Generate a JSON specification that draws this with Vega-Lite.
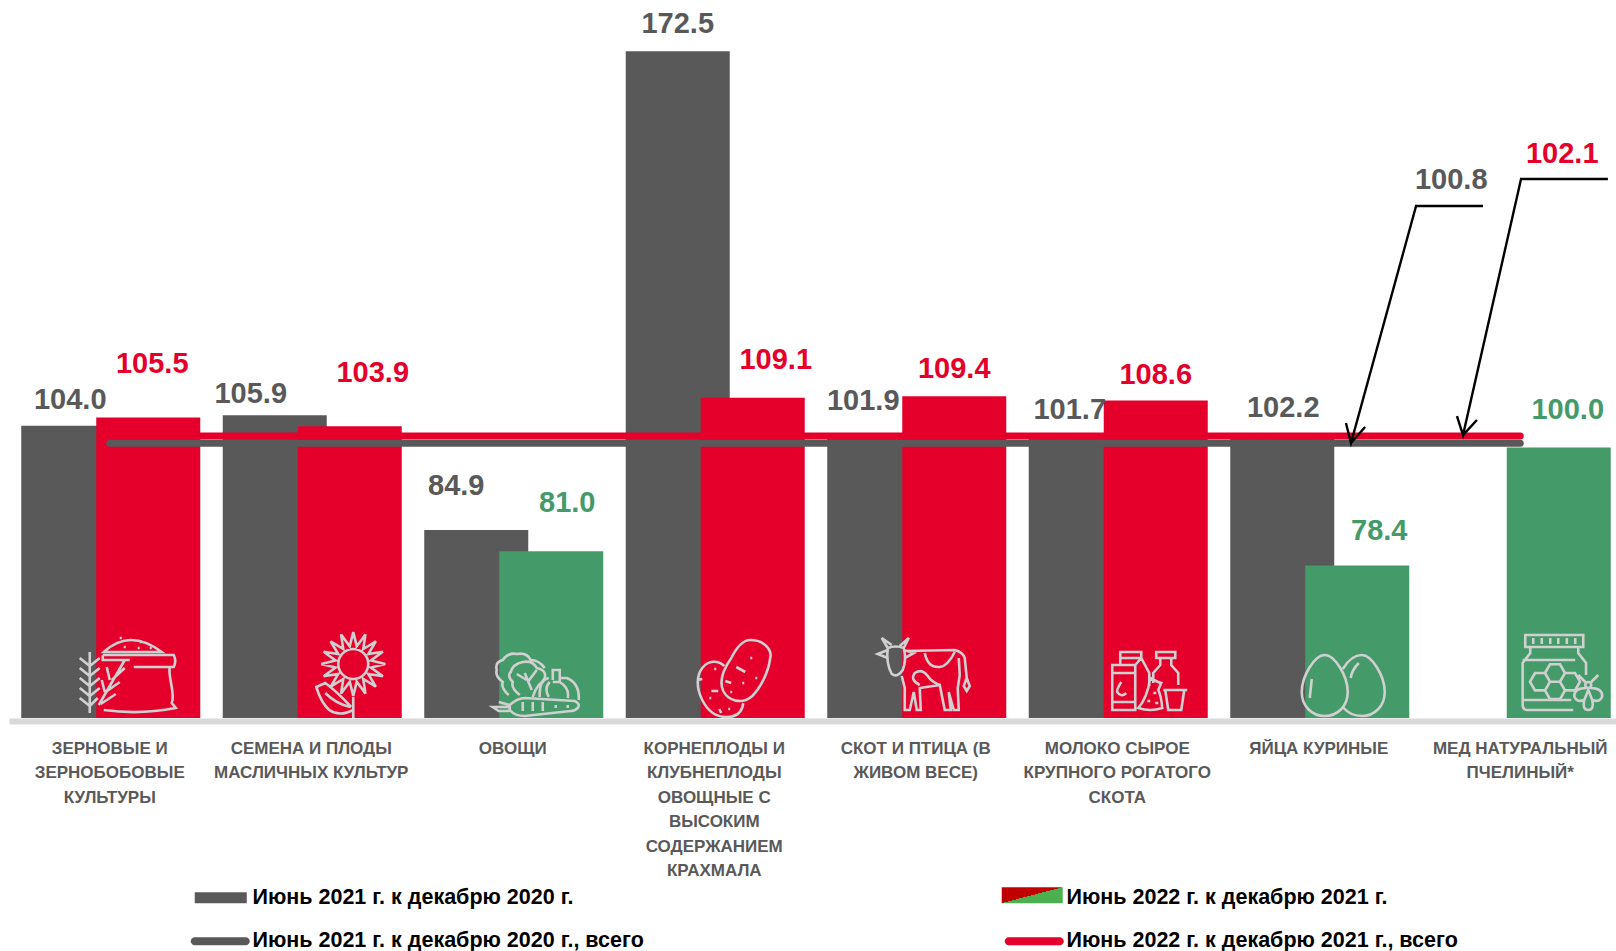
{
"$schema":"https://vega.github.io/schema/vega-lite/v6.json",
"width":1607,"height":718,
"autosize":"none",
"padding":{"left":9,"top":0,"right":0,"bottom":233},
"background":"white",
"config":{"view":{"stroke":null},"font":"Liberation Sans"},
"datasets":{
"bars":[
{"category":"Зерновые и|зернобобовые|культуры","series":"2021","value":104.0},
{"category":"Семена и плоды|масличных культур","series":"2021","value":105.9},
{"category":"Овощи","series":"2021","value":84.9},
{"category":"Корнеплоды и|клубнеплоды|овощные с|высоким|содержанием|крахмала","series":"2021","value":172.5},
{"category":"Скот и птица (в|живом весе)","series":"2021","value":101.9},
{"category":"Молоко сырое|крупного рогатого|скота","series":"2021","value":101.7},
{"category":"Яйца куриные","series":"2021","value":102.2},
{"category":"Зерновые и|зернобобовые|культуры","series":"2022","value":105.5},
{"category":"Семена и плоды|масличных культур","series":"2022","value":103.9},
{"category":"Овощи","series":"2022","value":81.0},
{"category":"Корнеплоды и|клубнеплоды|овощные с|высоким|содержанием|крахмала","series":"2022","value":109.1},
{"category":"Скот и птица (в|живом весе)","series":"2022","value":109.4},
{"category":"Молоко сырое|крупного рогатого|скота","series":"2022","value":108.6},
{"category":"Яйца куриные","series":"2022","value":78.4},
{"category":"Мед натуральный|пчелиный*","series":"2022","value":100.0}
],
"totals":[
{"category":"Зерновые и|зернобобовые|культуры","series":"2021","value":100.8},
{"category":"Мед натуральный|пчелиный*","series":"2021","value":100.8},
{"category":"Зерновые и|зернобобовые|культуры","series":"2022","value":102.1},
{"category":"Мед натуральный|пчелиный*","series":"2022","value":102.1}
],
"icons":[
{"category":"Зерновые и|зернобобовые|культуры"},
{"category":"Семена и плоды|масличных культур"},
{"category":"Овощи"},
{"category":"Корнеплоды и|клубнеплоды|овощные с|высоким|содержанием|крахмала"},
{"category":"Скот и птица (в|живом весе)"},
{"category":"Молоко сырое|крупного рогатого|скота"},
{"category":"Яйца куриные"},
{"category":"Мед натуральный|пчелиный*"}
],
"leaders":[
{"leader":"a","step":1,"pos":7.315,"val":144.19},
{"leader":"a","step":2,"pos":6.983,"val":144.19},
{"leader":"a","step":3,"pos":6.660,"val":100.82},
{"leader":"a","step":4,"pos":6.635,"val":104.48},
{"leader":"a","step":5,"pos":6.660,"val":100.82},
{"leader":"a","step":6,"pos":6.730,"val":103.75},
{"leader":"b","step":1,"pos":7.935,"val":149.13},
{"leader":"b","step":2,"pos":7.504,"val":149.13},
{"leader":"b","step":3,"pos":7.216,"val":102.28},
{"leader":"b","step":4,"pos":7.186,"val":105.76},
{"leader":"b","step":5,"pos":7.216,"val":102.28},
{"leader":"b","step":6,"pos":7.285,"val":105.03}
],
"legendItems":[
{"item":"Июнь 2021 г. к декабрю 2020 г."},
{"item":"Июнь  2021 г. к декабрю 2020 г., всего"},
{"item":"Июнь 2022 г. к декабрю 2021 г."},
{"item":"Июнь 2022 г. к декабрю 2021 г., всего"}
]
},
"layer":[
{
"layer":[
{
"data":{"name":"bars"},
"mark":{"type":"bar","width":104},
"encoding":{
"x":{"field":"category","type":"nominal","sort":null,
"scale":{"type":"band","domain":["Зерновые и|зернобобовые|культуры","Семена и плоды|масличных культур","Овощи","Корнеплоды и|клубнеплоды|овощные с|высоким|содержанием|крахмала","Скот и птица (в|живом весе)","Молоко сырое|крупного рогатого|скота","Яйца куриные","Мед натуральный|пчелиный*"],"range":[0,1612],"padding":0},
"axis":{"title":null,"orient":"bottom","offset":3,"domainColor":"#D9D9D9","domainWidth":6,"ticks":false,"labelAngle":0,"labelFont":"Liberation Sans","labelFontWeight":"bold","labelFontSize":17,"labelColor":"#595959","labelLineHeight":24.5,"labelPadding":19,"labelLimit":0,"labelOverlap":false,"labelBound":false,"labelFlush":false,"labelAlign":"center","labelBaseline":"top","labelExpr":"split(upper(datum.label),'|')"}},
"xOffset":{"field":"series","type":"nominal","sort":null,"scale":{"type":"point","domain":["2021","2022"],"range":[64.25,139.25],"padding":0}},
"y":{"field":"value","type":"quantitative","stack":false,"scale":{"domain":[50.5,181.9],"nice":false,"zero":false},"axis":null},
"y2":{"datum":50.5},
"color":{"condition":[{"test":"datum.series==='2021'","value":"#595959"},{"test":"datum.value<=100","value":"#459A69"}],"value":"#E4002B"}
}
},
{
"data":{"name":"icons"},
"mark":{"type":"point","filled":false,"strokeWidth":2.6,"stroke":"#D0D0D0","opacity":1,"size":4},
"encoding":{
"x":{"field":"category","type":"nominal","sort":null},
"y":{"datum":50.5,"type":"quantitative"},
"shape":{"field":"category","type":"nominal","legend":null,"scale":{"domain":["Зерновые и|зернобобовые|культуры","Семена и плоды|масличных культур","Овощи","Корнеплоды и|клубнеплоды|овощные с|высоким|содержанием|крахмала","Скот и птица (в|живом весе)","Молоко сырое|крупного рогатого|скота","Яйца куриные","Мед натуральный|пчелиный*"],"range":[
"M-6,-66 Q20,-90 52,-66 Z M-7,-63 H64 Q67,-57 64,-51 H24 M-7,-63 V-58 H20 M60,-51 C58,-40 66,-25 62,-15 L66,-10 Q30,-3 -6,-8 M10,-80 h2 M20,-78 h2 M30,-76 h2 M14,-71 h2 M28,-70 h2 M40,-70 h2 M-20,-66 V-5 M-30,-60 L-20,-52 L-10,-60 M-30,-50 L-20,-42 L-10,-50 M-30,-40 L-20,-32 L-10,-40 M-30,-30 L-20,-22 L-10,-30 M-30,-20 L-20,-12 L-12,-20 M-11,-13 L15,-58 M-3,-51 L0,-38 M15,-50 L2,-38 M-8,-38 L-5,-26 M10,-36 L-4,-26 M6,-24 L-9,-14",
"M74,-54 L59.7,-50.5 L71.6,-41.8 L57,-44 L64.6,-31.4 L52,-39 L54.2,-24.4 L45.5,-36.3 L42,-22 L38.5,-36.3 L29.8,-24.4 L32,-39 L19.4,-31.4 L27,-44 L12.4,-41.8 L24.3,-50.5 L10,-54 L24.3,-57.5 L12.4,-66.2 L27,-64 L19.4,-76.6 L32,-69 L29.8,-83.6 L38.5,-71.7 L42,-86 L45.5,-71.7 L54.2,-83.6 L52,-69 L64.6,-76.6 L57,-64 L71.6,-66.2 L59.7,-57.5 Z M57,-54 A15,15 0 1 1 27,-54 A15,15 0 1 1 57,-54 Z M42,-21 V0 M40,-11 Q24,-28 14,-35 L5,-31 Q10,-15 18,-8 Q28,-1 42,-8 M14,-25 Q25,-14 39,-11",
"M-3,-13 Q5,-20 12,-20 L62,-17 Q68,-14 65,-10 Q62,-7 58,-7 L12,-2 Q2,-2 -3,-8 Z M-3,-13 L-14,-16 M-3,-11 L-20,-11 L-14,-7 L-3,-7 M10,-16 V-7 M20,-16 V-7 M30,-16 V-7 M43,-13 V-10 M55,-13 V-10 M-4,-23 Q-12,-30 -10,-36 Q-18,-42 -16,-48 Q-18,-56 -10,-58 Q-4,-66 4,-64 Q14,-66 18,-58 Q26,-58 32,-50 M7,-23 Q-2,-30 0,-36 Q-6,-42 -2,-46 Q0,-54 10,-56 Q20,-58 24,-50 Q34,-48 32,-40 Q30,-36 26,-33 Q22,-28 20,-21 M19,-28 L12,-45 M14,-38 L4,-44 M15,-36 L24,-48 M27,-21 Q26,-38 36,-40 M40,-38 V-48 H47 V-36 H40 M47,-40 H54 Q67,-35 66,-18 M37,-36 Q31,-30 36,-21 M47,-36 Q57,-30 55,-20",
"M36,-78 C50,-78 58,-68 56,-60 C54,-45 46,-30 38,-22 C28,-13 14,-17 9,-27 C4,-38 10,-50 17,-60 C22,-70 28,-78 36,-78 Z M10,-52 C4,-58 -6,-58 -12,-50 C-18,-42 -18,-30 -12,-18 C-6,-6 2,-1 12,-1 C22,-1 28,-6 29,-15 M36,-60 h2 M41,-40 h2 M28,-35 h2 M16,-26 h2 M0,-49 h2 M-5,-20 h2 M14,-9 h2 M22,-51 L31,-46 M11,-37 L17,-35 M-3,-27 L4,-27 M-17,-38 L-12,-39 M7,-5 L5,-9",
"M-28,-70 Q-20,-73 -12,-70 Q-9,-58 -13,-48 Q-18,-40 -24,-44 Q-30,-55 -28,-70 Z M-28,-70 L-34,-80 L-24,-73 M-12,-70 L-7,-80 L-16,-72 M-28,-68 L-38,-64 L-28,-60 M-12,-68 L-2,-65 L-11,-60 M-12,-67 L39,-68 Q47,-66 49,-60 L51,-40 M51,-40 L48,-32 L51,-27 L54,-32 L51,-40 M-14,-42 L-11,-30 L-11,-8 L-6,-8 L-2,-26 L1,-8 L5,-8 L4,-30 L24,-33 L29,-8 L35,-8 L33,-26 L38,-8 L43,-8 L42,-30 L44,-43 L43,-60 M9,-65 Q12,-50 24,-51 Q32,-52 39,-66 M4,-33 Q-6,-38 -1,-45 Q6,-50 12,-42 Q16,-36 24,-33",
"M-5,-53 H18 V-8 H-5 Z M-5,-45 H18 M-5,-16 H18 M3,-53 V-60 H24 L32,-45 V-32 M18,-53 L24,-60 M3,-60 V-66 H24 V-60 M4,-36 Q-1,-28 0,-26 Q4,-20 9,-25 M39,-66 H58 V-60 H39 Z M43,-60 V-53 L36,-45 V-35 M54,-60 V-53 L61,-45 V-33 M21,-10 Q30,-20 33,-40 Q40,-36 44,-35 L41,-28 Q44,-22 45,-10 Q33,-6 21,-10 Z M36,-25 h3 M30,-17 h3 M38,-15 h3 M46,-28 H70 M48,-28 L51,-8 H64 L67,-28",
"M6,-63 C16,-63 29,-42 29,-26 C29,-12 19,-2 6,-2 C-7,-2 -17,-12 -17,-26 C-17,-42 -4,-63 6,-63 Z M24,-49 C29,-57 36,-63 43,-63 C53,-63 66,-42 66,-26 C66,-12 56,-2 43,-2 C35,-2 29,-5 24,-11 M-7,-39 L-9,-20 M40,-55 Q33,-48 32,-40",
"M5,-83 H63 V-71 H5 Z M13,-80 V-74 M21.5,-80 V-74 M30,-80 V-74 M38,-80 V-74 M46.6,-80 V-74 M55,-80 V-74 M10,-71 V-65 L2.4,-55 V-13 Q2.4,-8 7,-8 H53 M58,-71 V-65 L65.8,-55 V-43 M2.4,-58 H55 M2.4,-18 H51 M9.75,-36.3 L14.75,-45 L24.75,-45 L29.75,-36.3 L24.75,-27.6 L14.75,-27.6 Z M24.75,-45 L29.75,-53.7 L39.75,-53.7 L44.75,-45 L39.75,-36.3 L29.75,-36.3 Z M24.75,-27.6 L29.75,-36.3 L39.75,-36.3 L44.75,-27.6 L39.75,-18.9 L29.75,-18.9 Z M39.75,-36.3 L44.75,-45 L54.75,-45 L59.75,-36.3 L54.75,-27.6 L44.75,-27.6 Z M71,-33 A3,3 0 1 1 65,-33 A3,3 0 1 1 71,-33 Z M66,-30 Q54,-30 54,-22 Q56,-15 64,-18 L68,-28 L72,-18 Q80,-15 82,-22 Q82,-30 70,-30 M64,-18 Q62,-8 68,-8 Q74,-8 72,-18 M66,-35 L58,-43 M70,-35 L78,-43"
]}}
}
},
{
"data":{"name":"totals"},
"mark":{"type":"line","strokeWidth":7,"strokeCap":"round"},
"encoding":{
"x":{"field":"category","type":"nominal","sort":null},
"y":{"field":"value","type":"quantitative"},
"detail":{"field":"series"},
"color":{"condition":{"test":"datum.series==='2021'","value":"#595959"},"value":"#E4002B"}
}
},
{
"data":{"name":"bars"},
"mark":{"type":"text","font":"Liberation Sans","fontWeight":"bold","fontSize":29,"baseline":"middle",
"dx":{"expr":"({'104.0':-3,'105.9':-24,'84.9':-20,'172.5':0,'101.9':-16,'101.7':-11,'102.2':1,'105.5':4,'103.9':23,'81.0':16,'109.1':23,'109.4':0,'108.6':0,'78.4':22,'100.0':9})[format(datum.value,'.1f')]"},
"dy":{"expr":"({'104.0':-26,'105.9':-21,'84.9':-44,'172.5':-27,'101.9':-36,'101.7':-28,'102.2':-27,'105.5':-53,'103.9':-53,'81.0':-48,'109.1':-38,'109.4':-27,'108.6':-26,'78.4':-35,'100.0':-38})[format(datum.value,'.1f')]"}},
"encoding":{
"x":{"field":"category","type":"nominal","sort":null},
"xOffset":{"field":"series","type":"nominal","sort":null},
"y":{"field":"value","type":"quantitative"},
"text":{"field":"value","type":"quantitative","format":".1f"},
"color":{"condition":[{"test":"datum.series==='2021'","value":"#595959"},{"test":"datum.value<=100","value":"#459A69"}],"value":"#E4002B"}
}
},
{
"data":{"name":"totals"},
"transform":[{"filter":"indexof(datum.category,'Мед')===0"}],
"mark":{"type":"text","font":"Liberation Sans","fontWeight":"bold","fontSize":29,"baseline":"middle",
"dx":{"expr":"datum.series==='2021'?-69:42"},
"dy":{"expr":"datum.series==='2021'?-263.5:-282.5"}},
"encoding":{
"x":{"field":"category","type":"nominal","sort":null},
"y":{"field":"value","type":"quantitative"},
"text":{"field":"value","type":"quantitative","format":".1f"},
"color":{"condition":{"test":"datum.series==='2021'","value":"#595959"},"value":"#E4002B"}
}
}
]
},
{
"data":{"name":"leaders"},
"mark":{"type":"line","stroke":"#000000","strokeWidth":2.4,"strokeJoin":"miter"},
"encoding":{
"x":{"field":"pos","type":"quantitative","scale":{"domain":[0,8],"range":[0,1612],"nice":false,"zero":false},"axis":null},
"y":{"field":"val","type":"quantitative"},
"detail":{"field":"leader"},
"order":{"field":"step"}
}
},
{
"data":{"name":"legendItems"},
"mark":{"type":"point","filled":true,"size":0},
"encoding":{
"shape":{"field":"item","type":"nominal","sort":null,
"scale":{"domain":["Июнь 2021 г. к декабрю 2020 г.","Июнь  2021 г. к декабрю 2020 г., всего","Июнь 2022 г. к декабрю 2021 г.","Июнь 2022 г. к декабрю 2021 г., всего"],
"range":["M-44,-6 H8 V5 H-44 Z","M-44,-4 H7 A4,4 0 0 1 7,4 H-44 A4,4 0 0 1 -44,-4 Z","M-51,-11 H10 V5 H-51 Z","M-44,-4 H7 A4,4 0 0 1 7,4 H-44 A4,4 0 0 1 -44,-4 Z"]},
"legend":{"title":null,"orient":"none","legendX":219,"legendY":887,"columns":2,"columnPadding":351,"rowPadding":20.5,"symbolSize":4,"symbolStrokeWidth":0,"symbolOpacity":1,"labelFont":"Liberation Sans","labelFontWeight":"bold","labelFontSize":21.5,"labelColor":"#000000","labelOffset":3,"labelLimit":0,"padding":0,
"encoding":{"symbols":{"fill":{"condition":[{"test":"datum.value==='Июнь 2022 г. к декабрю 2021 г.'","value":{"gradient":"linear","x1":0,"y1":0,"x2":1,"y2":1,"stops":[{"offset":0,"color":"#C00000"},{"offset":0.5,"color":"#C00000"},{"offset":0.5,"color":"#4CAF50"},{"offset":1,"color":"#4CAF50"}]}},{"test":"datum.value==='Июнь 2022 г. к декабрю 2021 г., всего'","value":"#E4002B"}],"value":"#595959"}}}}}
}
}
],
"resolve":{"scale":{"x":"independent","shape":"independent"},"legend":{"shape":"independent"}}
}
